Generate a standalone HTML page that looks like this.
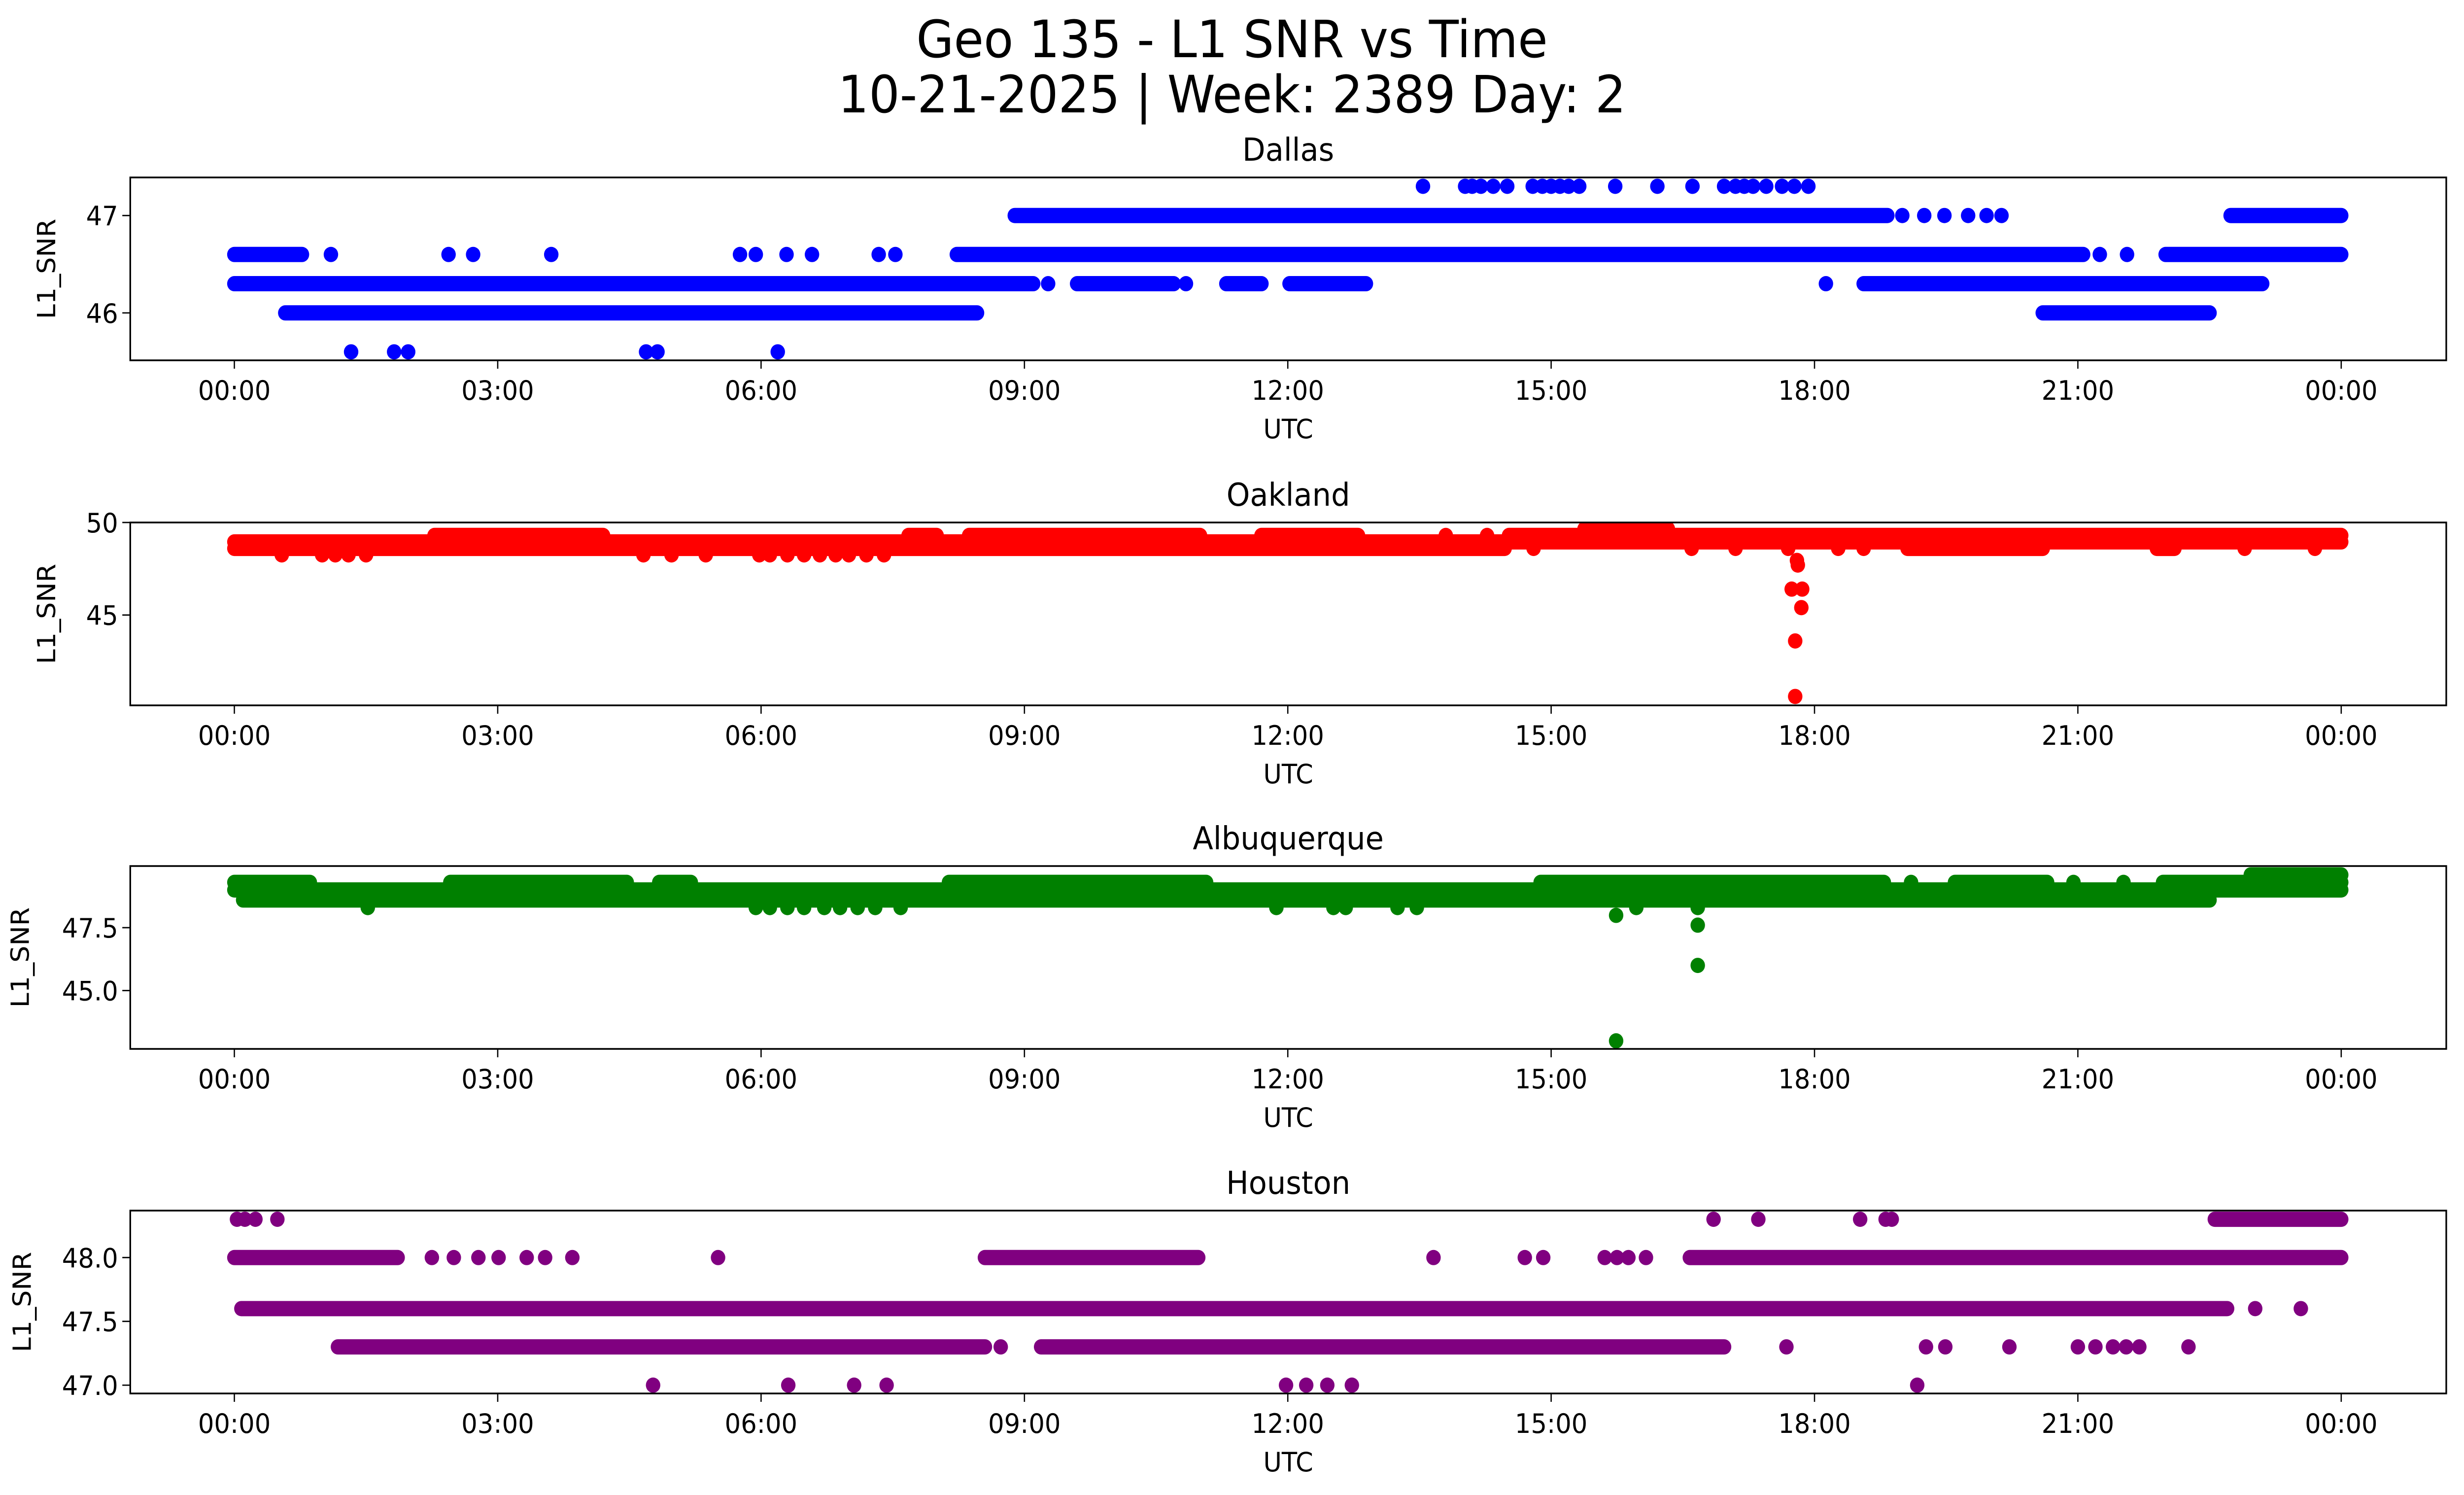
<!DOCTYPE html>
<html><head><meta charset="utf-8"><title>Geo 135 - L1 SNR vs Time</title>
<style>
html,body{margin:0;padding:0;background:#fff;width:100%;height:100%;overflow:hidden;}
svg{display:block;position:absolute;left:0;top:0;width:100vw;height:100vh;}
text{font-family:"DejaVu Sans","Liberation Sans",sans-serif;fill:#000;}
</style></head>
<body>
<svg id="chart" xmlns="http://www.w3.org/2000/svg" viewBox="0 0 5278 3033" preserveAspectRatio="none">
<rect width="5278" height="3033" fill="#fff"/>
<text x="2639" y="116" font-size="104" text-anchor="middle">Geo 135 - L1 SNR vs Time</text>
<text x="2639" y="228" font-size="104" text-anchor="middle">10-21-2025 | Week: 2389 Day: 2</text>
</svg>
<script>
// ---- shared axis data ----
const xTickHours = [0,3,6,9,12,15,18,21,24];
const xTickLabels = ["00:00","03:00","06:00","09:00","12:00","15:00","18:00","21:00","00:00"];

// ---- Dallas ----
const dallasTicks = [46,47];
const dallasTickLabels = ["46","47"];
const dallasRuns = [[46.6,0,0.77],[46.6,8.23,21.06],[46.6,22.0,24],[47.0,8.89,18.83],[47.0,22.74,24],
  [46.3,0,9.10],[46.3,9.6,10.70],[46.3,11.30,11.70],[46.3,12.02,12.89],[46.3,18.56,23.1],
  [46.0,0.58,8.46],[46.0,20.6,22.5]];
const dallasPoints = [[1.10,46.6],[2.44,46.6],[2.72,46.6],[3.61,46.6],[5.76,46.6],[5.94,46.6],[6.29,46.6],[6.58,46.6],[7.34,46.6],[7.53,46.6],[21.25,46.6],[21.56,46.6],
  [19.0,47],[19.25,47],[19.48,47],[19.75,47],[19.96,47],[20.13,47],
  [9.27,46.3],[10.84,46.3],[18.13,46.3],
  [1.33,45.6],[1.82,45.6],[1.98,45.6],[4.69,45.6],[4.82,45.6],[6.19,45.6],
  [13.54,47.3],[14.02,47.3],[14.1,47.3],[14.2,47.3],[14.34,47.3],[14.5,47.3],[14.79,47.3],[14.9,47.3],[15.0,47.3],[15.1,47.3],[15.2,47.3],[15.32,47.3],[15.73,47.3],[16.21,47.3],[16.61,47.3],[16.97,47.3],[17.1,47.3],[17.2,47.3],[17.3,47.3],[17.45,47.3],[17.63,47.3],[17.77,47.3],[17.93,47.3]];

// ---- Oakland ----
const oaklandTicks = [45,50];
const oaklandTickLabels = ["45","50"];
const oaklandRuns = [[48.6,0,14.47],[48.95,0,24],[49.3,2.28,4.2],[49.3,7.68,8.0],[49.3,8.37,11.0],[49.3,11.7,12.8],[49.3,14.52,24],
  [49.65,15.38,16.33],[48.6,19.06,20.6],[48.6,21.9,22.1]];
const oaklandPoints = [[0.54,48.25],[1.0,48.25],[1.15,48.25],[1.3,48.25],[1.5,48.25],[4.66,48.25],[4.98,48.25],[5.37,48.25],[5.98,48.25],[6.1,48.25],[6.3,48.25],[6.49,48.25],[6.67,48.25],[6.85,48.25],[7.0,48.25],[7.2,48.25],[7.4,48.25],
  [14.8,48.6],[16.6,48.6],[17.1,48.6],[17.7,48.6],[18.27,48.6],[18.56,48.6],[22.9,48.6],[23.7,48.6],[13.8,49.3],[14.27,49.3],
  [17.8,47.95],[17.81,47.7],[17.74,46.4],[17.86,46.4],[17.85,45.4],[17.78,43.6],[17.78,40.6]];

// ---- Albuquerque ----
const albTicks = [45,47.5];
const albTickLabels = ["45.0","47.5"];
const albRuns = [[49.0,0,24],[48.6,0.1,22.5],[49.3,0,0.86],[49.3,2.46,4.47],[49.3,4.84,5.2],[49.3,8.14,11.07],[49.3,14.88,18.79],[49.3,19.6,20.65],[49.3,21.97,24],[49.6,22.97,24]];
const albPoints = [[19.1,49.3],[20.95,49.3],[21.52,49.3],
  [1.52,48.3],[5.94,48.3],[6.1,48.3],[6.3,48.3],[6.49,48.3],[6.72,48.3],[6.9,48.3],[7.1,48.3],[7.3,48.3],[7.59,48.3],[11.87,48.3],[12.52,48.3],[12.66,48.3],[13.25,48.3],[13.47,48.3],[15.97,48.3],[16.67,48.3],
  [15.74,47.99],[16.67,47.6],[16.67,46.0],[15.74,43.0]];

// ---- Houston ----
const houTicks = [47,47.5,48];
const houTickLabels = ["47.0","47.5","48.0"];
const houRuns = [[48.3,22.56,24],[48.0,0,1.86],[48.0,8.55,10.98],[48.0,16.58,24],[47.6,0.08,22.7],[47.3,1.18,8.55],[47.3,9.19,16.97]];
const houPoints = [[0.03,48.3],[0.12,48.3],[0.24,48.3],[0.49,48.3],[16.85,48.3],[17.36,48.3],[18.52,48.3],[18.81,48.3],[18.88,48.3],
  [2.25,48],[2.5,48],[2.78,48],[3.01,48],[3.33,48],[3.54,48],[3.85,48],[5.51,48],[13.66,48],[14.7,48],[14.91,48],[15.61,48],[15.75,48],[15.88,48],[16.08,48],
  [23.02,47.6],[23.54,47.6],
  [8.73,47.3],[17.68,47.3],[19.27,47.3],[19.49,47.3],[20.22,47.3],[21.0,47.3],[21.2,47.3],[21.4,47.3],[21.55,47.3],[21.7,47.3],[22.26,47.3],
  [4.77,47],[6.31,47],[7.06,47],[7.43,47],[11.98,47],[12.21,47],[12.45,47],[12.73,47],[19.17,47]];

const NS = "http://www.w3.org/2000/svg";
const svg = document.getElementById("chart");
function mk(tag, attrs, parent){ const e=document.createElementNS(NS,tag); for(const k in attrs) e.setAttribute(k,attrs[k]); (parent||svg).appendChild(e); return e; }

const L=279, R=5240, H=371, R_DOT=15.5;
const xOf = h => 502 + h*(4513/24);

const panels = [
  {key:"dallas", title:"Dallas", top:360, dom:[45.513,47.391], color:"#0000ff", ticks:dallasTicks, labels:dallasTickLabels, runs:dallasRuns, pts:dallasPoints, ylx:118},
  {key:"oakland", title:"Oakland", top:1060, dom:[40.12,50.0], color:"#ff0000", ticks:oaklandTicks, labels:oaklandTickLabels, runs:oaklandRuns, pts:oaklandPoints, ylx:118},
  {key:"albuquerque", title:"Albuquerque", top:1757, dom:[42.68,49.95], color:"#008000", ticks:albTicks, labels:albTickLabels, runs:albRuns, pts:albPoints, ylx:62},
  {key:"houston", title:"Houston", top:2456, dom:[46.935,48.368], color:"#800080", ticks:houTicks, labels:houTickLabels, runs:houRuns, pts:houPoints, ylx:66}
];

panels.forEach(p=>{
  const g = mk("g",{});
  
  
  const yOf = v => p.top + H - (v - p.dom[0])/(p.dom[1]-p.dom[0])*H;
  const clipId = "clip-"+p.key;
  const cp = mk("clipPath",{id:clipId},g);
  mk("rect",{x:L,y:p.top,width:R-L,height:H},cp);
  const marks = mk("g",{"clip-path":"url(#"+clipId+")", fill:p.color},g);
  
  
  p.runs.forEach(r=>{
    const x0=xOf(r[1])-R_DOT, x1=xOf(r[2])+R_DOT;
    const e = mk("rect",{x:x0,y:yOf(r[0])-R_DOT,width:x1-x0,height:2*R_DOT,rx:R_DOT,ry:R_DOT},marks);
    
    
  });
  p.pts.forEach(q=>{
    const c = mk("circle",{cx:xOf(q[0]),cy:yOf(q[1]),r:R_DOT},marks);
    
    
  });
  const frame = mk("rect",{x:L,y:p.top,width:R-L,height:H,fill:"none",stroke:"#000","stroke-width":3.5},g);
  
  
  const bottom = p.top+H;
  xTickHours.forEach((h,i)=>{
    const x=xOf(h);
    const t = mk("line",{x1:x,x2:x,y1:bottom,y2:bottom+17,stroke:"#000","stroke-width":2.7},g);
    
    
    const lb = mk("text",{x:x,y:bottom+80,"font-size":54,"text-anchor":"middle"},g);
    lb.textContent = xTickLabels[i];
    
    
  });
  p.ticks.forEach((v,i)=>{
    const y=yOf(v);
    const t = mk("line",{x1:L-17,x2:L,y1:y,y2:y,stroke:"#000","stroke-width":2.7},g);
    
    
    const lb = mk("text",{x:L-26,y:y+20,"font-size":54,"text-anchor":"end"},g);
    lb.textContent = p.labels[i];
    
    
  });
  const tt = mk("text",{x:(L+R)/2,y:p.top-34,"font-size":64,"text-anchor":"middle"},g);
  tt.textContent = p.title;
  
  
  const xl = mk("text",{x:(L+R)/2,y:bottom+158,"font-size":54,"text-anchor":"middle"},g);
  xl.textContent = "UTC";
  
  
  const cy = p.top+H/2;
  const yl = mk("text",{x:p.ylx,y:cy,"font-size":54,"text-anchor":"middle",transform:"rotate(-90 "+p.ylx+" "+cy+")"},g);
  yl.textContent = "L1_SNR";
  
  
});
</script>
</body></html>
